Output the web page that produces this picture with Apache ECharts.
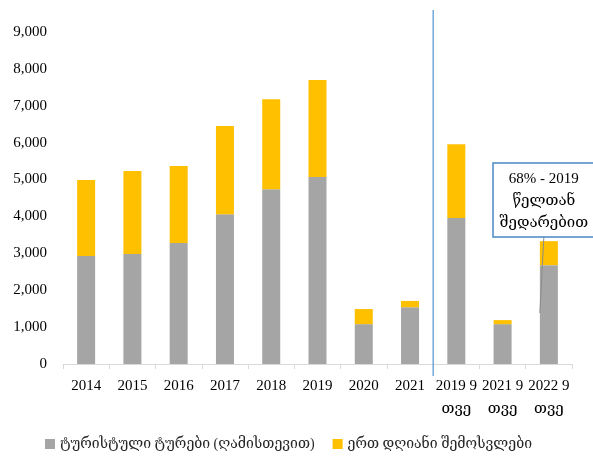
<!DOCTYPE html>
<html><head><meta charset="utf-8">
<script src="https://cdn.jsdelivr.net/npm/echarts@6/dist/echarts.min.js"></script>
<style>html,body{margin:0;padding:0;background:#fff}#c{width:593px;height:464px}</style>
</head><body><div id="c"></div>
<script>
const categories = ['2014','2015','2016','2017','2018','2019','2020','2021','2019 9\nთვე','2021 9\nთვე','2022 9\nთვე'];
const tourTrips = [2930, 2980, 3280, 4060, 4740, 5070, 1080, 1540, 3960, 1080, 2680];
const dayVisits = [2060, 2250, 2090, 2390, 2440, 2630, 410, 170, 2000, 110, 650];
const seriesNames = ['ტურისტული ტურები (ღამისთევით)', 'ერთ დღიანი შემოსვლები'];
const yTicks = {min: 0, max: 9000, interval: 1000};
const calloutLines = ['68% - 2019', 'წელთან', 'შედარებით'];

const FONT = '"Liberation Serif","DejaVu Serif",serif';
const chart = echarts.init(document.getElementById('c'), null, {renderer: 'canvas'});
chart.setOption({
  animation: false,
  textStyle: {fontFamily: FONT},
  grid: {left: 63, right: 21, top: 32, bottom: 100, containLabel: false},
  legend: {
    bottom: 8, left: 40, width: 560, itemWidth: 10, itemHeight: 10, itemGap: 18,
    icon: 'rect', orient: 'horizontal',
    textStyle: {fontFamily: FONT, fontSize: 14, color: '#262626'},
    data: seriesNames
  },
  xAxis: {
    type: 'category', data: categories,
    axisLine: {lineStyle: {color: '#D9D9D9', width: 1}},
    axisTick: {show: true, alignWithLabel: false, length: 5, lineStyle: {color: '#D9D9D9'}},
    axisLabel: {fontFamily: FONT, fontSize: 15, color: '#000', margin: 11, lineHeight: 23, interval: 0}
  },
  yAxis: {
    type: 'value', min: yTicks.min, max: yTicks.max, interval: yTicks.interval,
    splitLine: {show: false}, axisLine: {show: false}, axisTick: {show: false},
    axisLabel: {fontFamily: FONT, fontSize: 15, color: '#000', margin: 16,
      formatter: v => v.toLocaleString('en-US')}
  },
  series: [
    {name: seriesNames[0], type: 'bar', stack: 's', data: tourTrips, barWidth: 18,
      itemStyle: {color: '#A5A5A5'}},
    {name: seriesNames[1], type: 'bar', stack: 's', data: dayVisits, barWidth: 18,
      itemStyle: {color: '#FFC000'}}
  ]
});

// annotations positioned via the chart's own scales
const p7 = chart.convertToPixel({xAxisIndex: 0, yAxisIndex: 0}, [7, 0]);
const p8 = chart.convertToPixel({xAxisIndex: 0, yAxisIndex: 0}, [8, 0]);
const lineX = (p7[0] + p8[0]) / 2;
const last = categories.length - 1;
const pBar = chart.convertToPixel({xAxisIndex: 0, yAxisIndex: 0}, [last, tourTrips[last] + dayVisits[last]]);
const cx = pBar[0] - 5;
const boxTop = 163, boxBottom = 237;
chart.setOption({
  graphic: [
    {type: 'line', shape: {x1: lineX, y1: 10, x2: lineX, y2: 376},
      style: {stroke: '#5B9BD5', lineWidth: 1.3}, z: 10},
    {type: 'line', shape: {x1: cx, y1: boxBottom, x2: cx - 4, y2: 313},
      style: {stroke: '#8C8C8C', lineWidth: 1}, z: 10},
    {type: 'rect', shape: {x: 493, y: boxTop, width: 110, height: boxBottom - boxTop},
      style: {fill: '#fff', stroke: '#4A86C5', lineWidth: 1.5}, z: 11},
    {type: 'text', x: cx, y: 179, z: 12,
      style: {text: calloutLines[0], font: '15px ' + FONT, fill: '#000', align: 'center', verticalAlign: 'middle'}},
    {type: 'text', x: cx, y: 201, z: 12,
      style: {text: calloutLines[1], font: '15px ' + FONT, fill: '#000', align: 'center', verticalAlign: 'middle'}},
    {type: 'text', x: cx, y: 223, z: 12,
      style: {text: calloutLines[2], font: '15px ' + FONT, fill: '#000', align: 'center', verticalAlign: 'middle'}}
  ]
});
</script></body></html>
